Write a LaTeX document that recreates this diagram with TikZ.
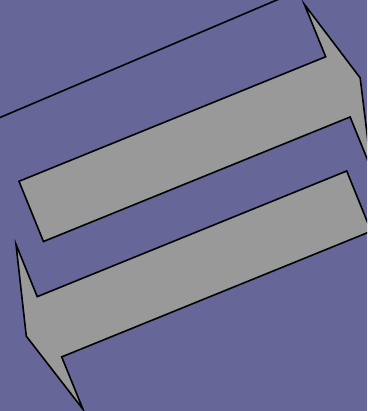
\documentclass[tikz,border=0pt]{standalone}
\definecolor{bgblue}{HTML}{666699}
\definecolor{arrowgray}{HTML}{999999}
\tikzset{
  bigarrow/.style={fill=arrowgray, draw=black, line width=1.6pt, line join=miter},
  guideline/.style={draw=black, line width=1.6pt}
}
\begin{document}
\begin{tikzpicture}[x=1pt, y=-1pt]
  \useasboundingbox (0,0) rectangle (367,411);
  \fill[bgblue] (0,0) rectangle (367,411);
  \clip (0,0) rectangle (367,411);
  % diagonal line at top left
  \coordinate (l1) at (-10,121.75);
  \coordinate (l2) at (290,-5.6);
  \draw[guideline] (l1) -- (l2);
  % upper arrow, pointing right-up
  \draw[bigarrow] (19,181.3) -- (325.68,56.77) -- (304.42,4.42) -- (360.15,77.85)
    -- (371.39,169.34) -- (350.13,116.99) -- (43.45,241.52) -- cycle;
  % lower arrow, pointing left-down
  \draw[bigarrow] (346.7,171) -- (37.24,296.66) -- (15.98,244.3) -- (26.3,336.2)
    -- (82.95,409.2) -- (61.7,356.9) -- (371.15,231.2) -- cycle;
\end{tikzpicture}
\end{document}
